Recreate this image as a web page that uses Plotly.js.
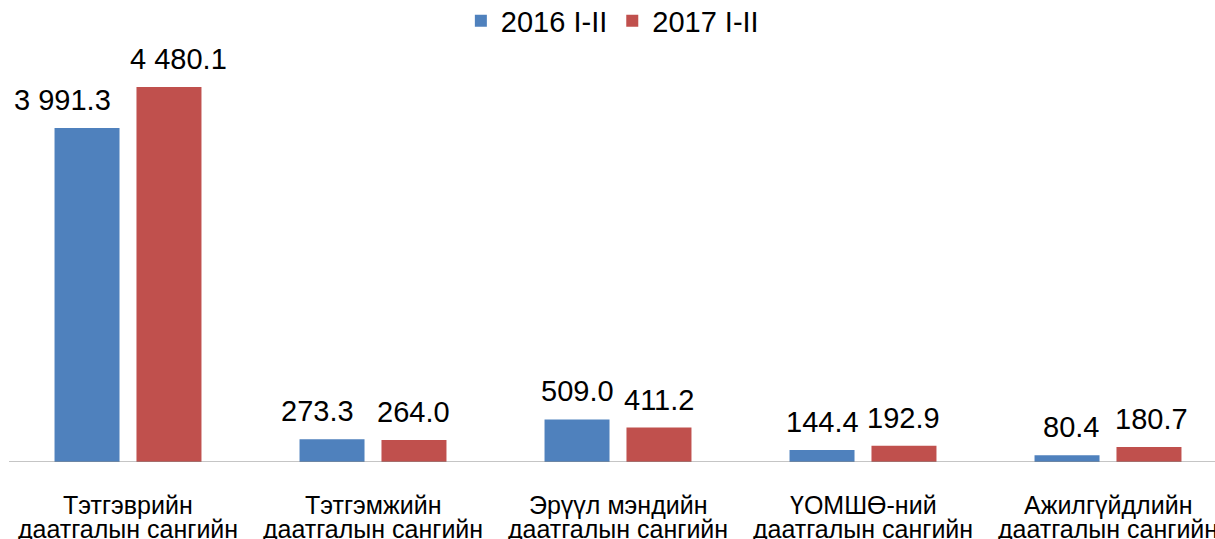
<!DOCTYPE html>
<html>
<head>
<meta charset="utf-8">
<script src="https://cdn.plot.ly/plotly-3.0.1.min.js"></script>
<style>html,body{margin:0;padding:0;background:#fff;}#chart{width:1215px;height:539px;}</style>
</head>
<body>
<div id="chart"></div>
<script>
const categories = [
  "Тэтгэврийн<br>даатгалын сангийн",
  "Тэтгэмжийн<br>даатгалын сангийн",
  "Эрүүл мэндийн<br>даатгалын сангийн",
  "ҮОМШӨ-ний<br>даатгалын сангийн",
  "Ажилгүйдлийн<br>даатгалын сангийн"
];
const series2016Name = "2016 I-II";
const series2017Name = "2017 I-II";
const values2016 = [3991.3, 273.3, 509.0, 144.4, 80.4];
const values2017 = [4480.1, 264.0, 411.2, 192.9, 180.7];

const FONT = "Liberation Sans, Arial, sans-serif";
const BARGAP = 0.331;
const BARGROUPGAP = 0.207;
const xs = categories.map((c, i) => i);

function fmt(v) {
  const s = v.toFixed(1);
  const [ip, dp] = s.split(".");
  return ip.replace(/\B(?=(\d{3})+(?!\d))/g, " ") + "." + dp;
}

const traces = [
  {type: "bar", name: series2016Name, x: xs, y: values2016,
   marker: {color: "#4F81BD"}, hoverinfo: "none"},
  {type: "bar", name: series2017Name, x: xs, y: values2017,
   marker: {color: "#C0504D"}, hoverinfo: "none"}
];

const off = (1 - BARGAP) / 4;
const labelNudge = [[-25, 10], [-15, 0], [0, 0], [0, 0], [4, 3]];
const annotations = [];
values2016.forEach((v, i) => {
  annotations.push({x: i - off, y: v, xref: "x", yref: "y", text: fmt(v), showarrow: false,
    yanchor: "bottom", yshift: 10, xshift: labelNudge[i][0], font: {family: FONT, size: 29, color: "#000"}});
});
values2017.forEach((v, i) => {
  annotations.push({x: i + off, y: v, xref: "x", yref: "y", text: fmt(v), showarrow: false,
    yanchor: "bottom", yshift: 10, xshift: labelNudge[i][1], font: {family: FONT, size: 29, color: "#000"}});
});
categories.forEach((c, i) => {
  const lines = c.split("<br>");
  lines.forEach((ln, k) => {
    annotations.push({x: i, y: 0, xref: "x", yref: "paper", text: ln, showarrow: false,
      yanchor: "top", yshift: -27 - 24 * k, font: {family: FONT, size: 25, color: "#000"}});
  });
});

const layout = {
  width: 1215, height: 539,
  margin: {l: 0, r: 0, t: 0, b: 77, pad: 0, autoexpand: false},
  paper_bgcolor: "#fff", plot_bgcolor: "#fff",
  barmode: "group", bargap: BARGAP, bargroupgap: BARGROUPGAP,
  showlegend: true,
  legend: {orientation: "h", x: 0.504, xanchor: "center", y: 0.9545, yanchor: "middle",
    font: {family: FONT, size: 29, color: "#000"}, itemwidth: 30, traceorder: "normal",
    bgcolor: "rgba(0,0,0,0)"},
  xaxis: {range: [-128/245, 1087/245], showgrid: false, zeroline: false, showline: false,
    showticklabels: false, ticks: "", fixedrange: true},
  yaxis: {range: [0, 5520], visible: false, showgrid: false, zeroline: false, fixedrange: true},
  shapes: [{type: "line", xref: "paper", yref: "y", x0: 9/1215, x1: 1, y0: 0, y1: 0,
    line: {color: "#8a8a8a", width: 1}}],
  annotations: annotations
};

Plotly.newPlot("chart", traces, layout, {staticPlot: true, displayModeBar: false});
</script>
</body>
</html>
